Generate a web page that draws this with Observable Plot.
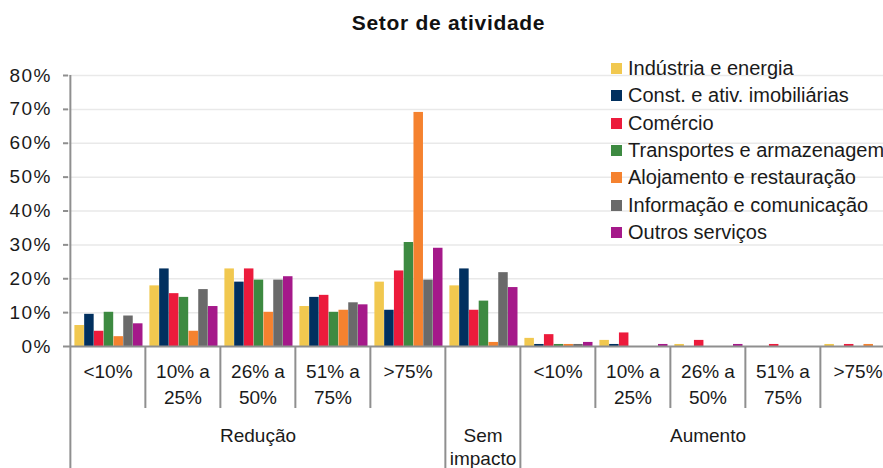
<!DOCTYPE html>
<html><head><meta charset="utf-8">
<script src="https://cdn.jsdelivr.net/npm/d3@7"></script>
<script src="https://cdn.jsdelivr.net/npm/@observablehq/plot@0.6"></script>
<style>
html,body{margin:0;padding:0;background:#fff;overflow:hidden;width:883px;height:468px}
#wrap{position:relative;width:883px;height:468px;overflow:hidden;background:#fff}
#chart{position:absolute;left:0;top:0;width:896px}
#chart svg{max-width:none !important;width:896px !important;height:480px !important}
#title{position:absolute;left:0;top:12px;width:897px;text-align:center;font-family:"Liberation Sans",Arial,sans-serif;font-weight:bold;font-size:21px;letter-spacing:0.7px;line-height:21px;color:#111}
#legend{position:absolute;left:611px;top:55px;width:300px}
#chart svg g[aria-label="y-axis tick label"] text{letter-spacing:1.5px}
#chart svg g[aria-label="xcat"] text{letter-spacing:0.6px}
.lg-swatch{height:27.3px !important;padding:0 !important;margin:0 !important}
.lg-swatch > svg{margin-right:6px !important}
.lg-swatches{margin:0 !important}
</style></head>
<body><div id="wrap"><div id="chart"></div><div id="title">Setor de atividade</div><div id="legend"></div></div>
<script>
// ---- data ----
const categories = ["<10%", "10% a\n25%", "26% a\n50%", "51% a\n75%", ">75%", "", "<10%", "10% a\n25%", "26% a\n50%", "51% a\n75%", ">75%"];
const catGroups = ["Redução", "Redução", "Redução", "Redução", "Redução", "Sem\nimpacto", "Aumento", "Aumento", "Aumento", "Aumento", "Aumento"];
const series = ["Indústria e energia", "Const. e ativ. imobiliárias", "Comércio", "Transportes e armazenagem", "Alojamento e restauração", "Informação e comunicação", "Outros serviços"];
const colors = ["#F1C84F", "#01305F", "#EC1B3C", "#3D8A41", "#F5822F", "#6A6A6A", "#A5198A"];
const industria   = [6.2, 17.9, 22.9, 11.8, 19.0, 17.9, 2.4, 1.8, 0.6, 0, 0.6];
const construcao  = [9.5, 22.9, 19.0, 14.5, 10.7, 22.9, 0.6, 0.6, 0, 0, 0];
const comercio    = [4.5, 15.6, 22.9, 15.1, 22.3, 10.7, 3.5, 4.0, 1.8, 0.6, 0.6];
const transportes = [10.1, 14.5, 19.6, 10.1, 30.7, 13.4, 0.6, 0, 0, 0, 0];
const alojamento  = [2.9, 4.5, 10.1, 10.7, 69.1, 1.2, 0.6, 0, 0, 0, 0.6];
const informacao  = [9.0, 16.8, 19.6, 12.9, 19.6, 21.8, 0.6, 0, 0, 0, 0];
const outros      = [6.7, 11.8, 20.6, 12.3, 29.0, 17.4, 1.2, 0.6, 0.6, 0, 0];
const yTicks = [0, 10, 20, 30, 40, 50, 60, 70, 80];

const seriesValues = [industria, construcao, comercio, transportes, alojamento, informacao, outros];
const rows = seriesValues.flatMap((vals, s) => vals.map((v, c) => ({s, c, v})));
const catIdx = d3.range(categories.length);

// ---- layout ----
const W = 896, ML = 68, MR = 0, H = 480, MT = 75, MB = 134;
const BW = (W - ML - MR) / categories.length;
const PADL = 4.4, PADR = 2.5;
const SLOT = (BW - PADL - PADR) / series.length;
const GRAY = "#8f8f8f";

// boundaries
const subB = catIdx.filter(i => i > 0 && catGroups[i] === catGroups[i - 1]);
const grpB = catIdx.filter(i => i > 0 && catGroups[i] !== catGroups[i - 1]);
// group label positions: middle category of each group
const groupNames = [...new Set(catGroups)];
const groupMid = groupNames.map(g => { const ix = catIdx.filter(i => catGroups[i] === g); return ix[Math.floor(ix.length / 2)]; });

const marks = [
  Plot.ruleY(yTicks.slice(1), {y: d => d, stroke: "#e9e9e9", strokeWidth: 1.5}),
  ...series.map((name, i) => Plot.barY(rows.filter(r => r.s === i), {
    x: "c", y: "v", fill: colors[i],
    insetLeft: PADL + i * SLOT, insetRight: PADR + (series.length - 1 - i) * SLOT
  })),
  Plot.ruleY([0], {stroke: GRAY, strokeWidth: 2}),
  Plot.ruleX([0], {x: d => d, y1: yTicks[yTicks.length - 1], y2: 0, insetBottom: -130, dx: -BW / 2, stroke: GRAY, strokeWidth: 2}),
  Plot.ruleX(subB, {x: d => d, y1: 0, y2: 0, insetBottom: -62, dx: -BW / 2, stroke: GRAY, strokeWidth: 2}),
  Plot.ruleX(grpB, {x: d => d, y1: 0, y2: 0, insetBottom: -130, dx: -BW / 2, stroke: GRAY, strokeWidth: 2}),
  Plot.axisY({ticks: yTicks, tickFormat: d => d + "%", tickSize: 5, tickPadding: 11.5, stroke: GRAY, strokeWidth: 2, fill: "#1a1a1a", fontSize: 19, label: null}),
  Plot.text(catIdx, {x: d => d, text: d => categories[d], frameAnchor: "bottom", lineAnchor: "top", dy: 14, lineHeight: 1.33, fontSize: 19, fill: "#1a1a1a", ariaLabel: "xcat"}),
  Plot.text(groupMid, {x: d => d, text: d => catGroups[d], frameAnchor: "bottom", lineAnchor: "top", dy: 79, lineHeight: 1.22, fontSize: 19, fill: "#1a1a1a", ariaLabel: "xgroup"})
];

const chart = Plot.plot({
  width: W, height: H, marginLeft: ML, marginRight: MR, marginTop: MT, marginBottom: MB,
  x: {type: "band", domain: catIdx, padding: 0, axis: null},
  y: {domain: [0, 80], axis: null},
  style: {fontFamily: '"Liberation Sans", Arial, sans-serif', fontSize: "19px", color: "#1a1a1a", background: "#fff", overflow: "visible", maxWidth: "none"},
  marks
});
document.getElementById("chart").append(chart);

const legend = Plot.legend({
  color: {type: "ordinal", domain: series, range: colors},
  columns: 1, swatchSize: 11, className: "lg",
  style: {fontFamily: '"Liberation Sans", Arial, sans-serif', fontSize: "20px", color: "#1a1a1a", width: "300px"}
});
document.getElementById("legend").append(legend);
</script>
</body></html>
